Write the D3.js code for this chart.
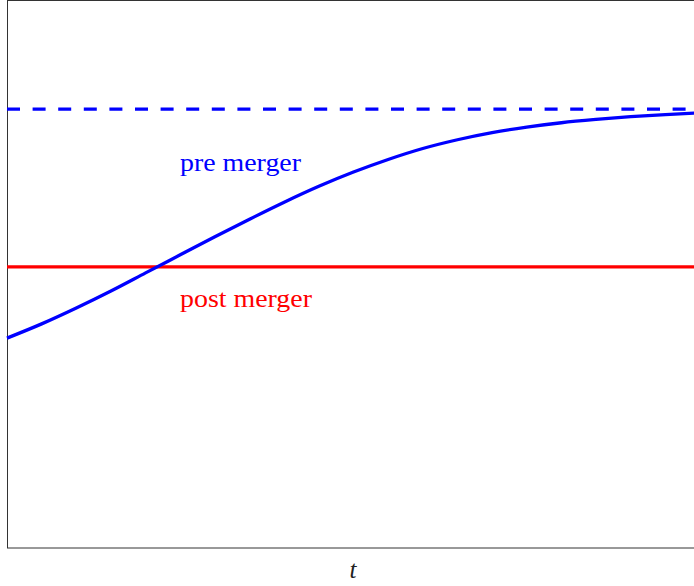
<!DOCTYPE html>
<html>
<head>
<meta charset="utf-8">
<script src="https://cdn.jsdelivr.net/npm/d3@7"></script>
<style>
  body { margin: 0; background: #fff; }
  #chart { width: 694px; height: 586px; }
  text { font-family: "Liberation Serif", "DejaVu Serif", serif; }
</style>
</head>
<body>
<div id="chart"></div>
<script>
// blue curve (pre merger)
var tValues   = [0, 0.5, 1, 1.5, 2, 2.5, 3, 3.5, 4, 4.5, 5, 5.5, 6, 6.5, 7, 7.5, 8, 8.5, 9, 9.5, 10];
var preValues = [3.83, 4.09, 4.38, 4.69, 5.02, 5.35, 5.68, 6.0, 6.31, 6.60, 6.86, 7.09, 7.29, 7.45, 7.58, 7.68, 7.76, 7.82, 7.87, 7.91, 7.94];
var preLimit = 8.01;   // dashed asymptote
var postLevel = 5.13;  // red line
var labels = ["pre merger", "post merger"];
var axisLabel = "t";

var width = 694;
var height = 586;
var margin = {top: 0, left: 7, right: -6, bottom: 38};

var svg = d3.select("#chart")
    .append("svg")
    .attr("width", width)
    .attr("height", height);

var xScale = d3.scaleLinear()
    .domain([0, 10])
    .range([margin.left, width - margin.right]);

var yScale = d3.scaleLinear()
    .domain([0, 10])
    .range([height - margin.bottom, margin.top]);

// frame
svg.append("rect")
    .attr("x", margin.left + 0.5)
    .attr("y", 0.5)
    .attr("width", width - margin.right - margin.left)
    .attr("height", height - margin.bottom - margin.top - 0.5)
    .attr("fill", "none")
    .attr("stroke", "#333")
    .attr("stroke-width", 1);

var line = d3.line()
    .x(function(d) { return xScale(d[0]); })
    .y(function(d) { return yScale(d[1]); })
    .curve(d3.curveMonotoneX);

svg.append("line")
    .attr("x1", xScale(0))
    .attr("x2", xScale(10))
    .attr("y1", yScale(preLimit))
    .attr("y2", yScale(preLimit))
    .attr("stroke", "#0000ff")
    .attr("stroke-width", 3.3)
    .attr("stroke-dasharray", "13,12.6");

svg.append("line")
    .attr("x1", xScale(0))
    .attr("x2", xScale(10))
    .attr("y1", yScale(postLevel))
    .attr("y2", yScale(postLevel))
    .attr("stroke", "#ff0000")
    .attr("stroke-width", 3.3);

svg.append("path")
    .datum(d3.zip(tValues, preValues))
    .attr("fill", "none")
    .attr("stroke", "#0000ff")
    .attr("stroke-width", 3.3)
    .attr("d", line);

svg.append("text")
    .attr("x", 180)
    .attr("y", 171)
    .attr("fill", "#0000ff")
    .attr("font-size", 26)
    .attr("textLength", 121)
    .attr("lengthAdjust", "spacingAndGlyphs")
    .text(labels[0]);

svg.append("text")
    .attr("x", 180)
    .attr("y", 307)
    .attr("fill", "#ff0000")
    .attr("font-size", 26)
    .attr("textLength", 132)
    .attr("lengthAdjust", "spacingAndGlyphs")
    .text(labels[1]);

svg.append("text")
    .attr("x", 353)
    .attr("y", 578)
    .attr("text-anchor", "middle")
    .attr("font-size", 25)
    .attr("font-style", "italic")
    .attr("fill", "#222")
    .text(axisLabel);
</script>
</body>
</html>
